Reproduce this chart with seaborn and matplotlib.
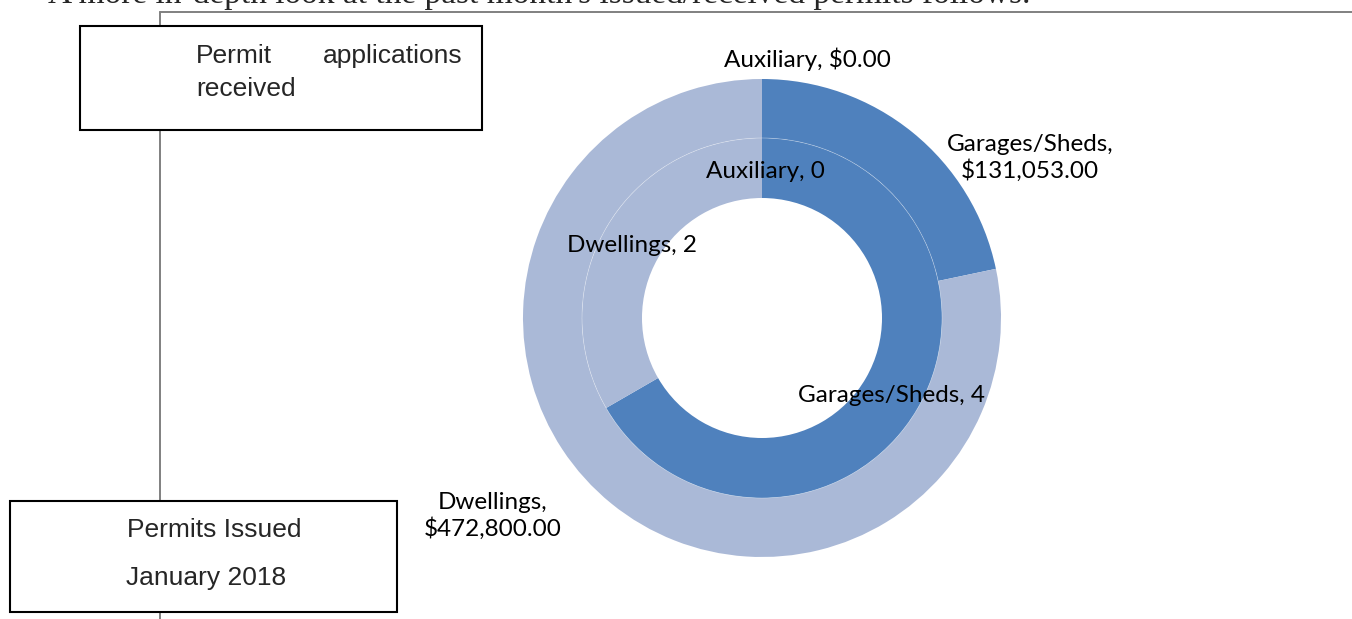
import matplotlib
matplotlib.use("Agg")
import matplotlib.pyplot as plt
from matplotlib.patches import Rectangle
import seaborn as sns

# permit data for January 2018
categories = ["Auxiliary", "Garages/Sheds", "Dwellings"]
permit_counts = [0, 4, 2]
permit_values = [0.00, 131053.00, 472800.00]
colors = ["#C0504D", "#4F81BD", "#AAB9D7"]

W, H = 1352, 619


def py(y):
    # screen pixel row -> data y
    return H - y


def main():
    sns.set_style("white")

    fig = plt.figure(figsize=(W / 100, H / 100), dpi=100)
    ax = fig.add_axes([0, 0, 1, 1])

    cx, cy = 762, py(318)

    # outer ring: permit values, inner ring: number of permits
    ax.pie(permit_values, radius=239, center=(cx, cy), colors=colors,
           startangle=90, counterclock=False,
           wedgeprops=dict(width=59, edgecolor="none"))
    ax.pie(permit_counts, radius=180, center=(cx, cy), colors=colors,
           startangle=90, counterclock=False,
           wedgeprops=dict(width=60, edgecolor="none"))
    ax.add_patch(plt.Circle((cx, cy), 180, fill=False, ec="white", lw=0.5, alpha=0.4))

    ax.set_xlim(0, W)
    ax.set_ylim(0, H)
    ax.set_aspect("equal")
    ax.axis("off")

    lab = dict(family=["Lato", "DejaVu Sans"], fontsize=17.5, ha="center", va="center", color="black")
    ax.text(807, py(59), f"{categories[0]}, ${permit_values[0]:,.2f}", **lab)
    ax.text(1030, py(158), f"{categories[1]},\n${permit_values[1]:,.2f}", linespacing=1.2, **lab)
    ax.text(493, py(516), f"{categories[2]},\n${permit_values[2]:,.2f}", linespacing=1.2, **lab)
    ax.text(765, py(171), f"{categories[0]}, {permit_counts[0]}", **lab)
    ax.text(892, py(395), f"{categories[1]}, {permit_counts[1]}", **lab)
    ax.text(632, py(245), f"{categories[2]}, {permit_counts[2]}", **lab)

    # document decoration: clipped sentence, connector lines and boxes
    ax.text(48, py(3), "A more in-depth look at the past month's issued/received permits follows.",
            family="Liberation Serif", fontsize=24, ha="left", va="baseline", clip_on=False)
    ax.plot([160, W], [py(12), py(12)], color="#808080", lw=1.4, zorder=0)
    ax.plot([160, 160], [py(12), py(619)], color="#808080", lw=1.4, zorder=0)

    box = dict(fc="white", ec="black", lw=1.5, zorder=3)
    ax.add_patch(Rectangle((80, py(130)), 402, 104, **box))
    ax.add_patch(Rectangle((10, py(612)), 387, 111, **box))

    btxt = dict(family="Liberation Sans", fontsize=19, va="baseline", zorder=4)
    ax.text(196, py(63), "Permit", ha="left", **btxt)
    ax.text(462, py(63), "applications", ha="right", **btxt)
    ax.text(196, py(96), "received", ha="left", **btxt)
    ax.text(214, py(537), "Permits Issued", ha="center", **btxt)
    ax.text(206, py(585), "January 2018", ha="center", **btxt)

    fig.savefig("out.png", dpi=100)


if __name__ == "__main__":
    main()
